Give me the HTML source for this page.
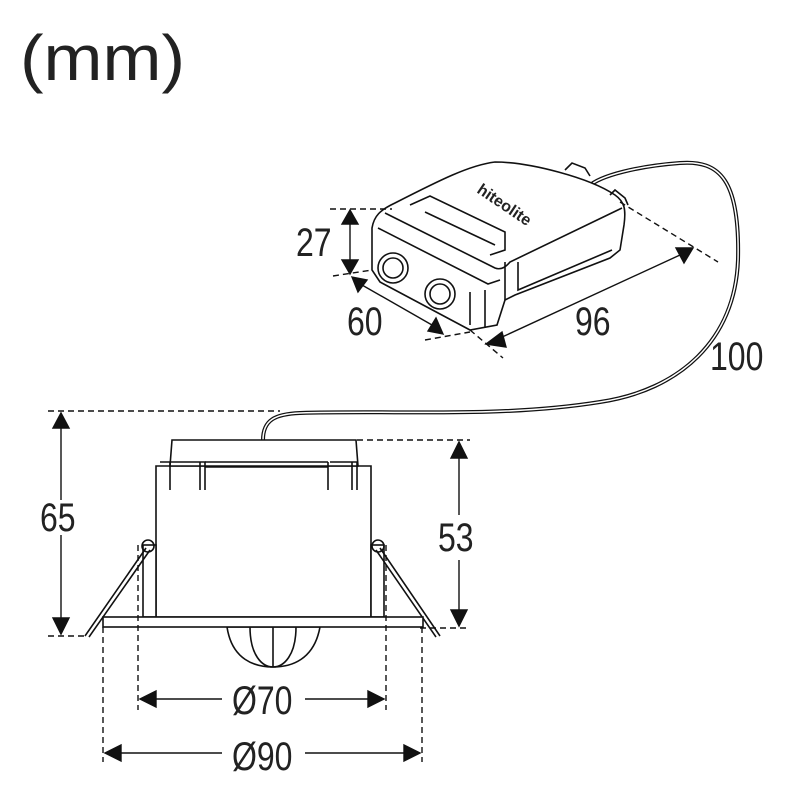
<!DOCTYPE html>
<html><head><style>
html,body{margin:0;padding:0;background:#fff;}
svg{display:block;}
text{font-family:"Liberation Sans",sans-serif;fill:#222;}
.d{font-size:40px;font-weight:normal;}
</style></head><body>
<svg width="800" height="800" viewBox="0 0 800 800" xmlns="http://www.w3.org/2000/svg">
<text x="20" y="80" style="font-size:64px" textLength="165" lengthAdjust="spacingAndGlyphs">(mm)</text>

<g fill="none" stroke="#111" stroke-width="1.6">
<path d="M263 440 C263 420 275 414 300 413 C400 410 500 418 600 402 C680 390 735 340 738 260 C740 180 720 160 680 163 C640 166 600 175 588 187" stroke-width="4"/>
<path d="M263 440 C263 420 275 414 300 413 C400 410 500 418 600 402 C680 390 735 340 738 260 C740 180 720 160 680 163 C640 166 600 175 588 187" stroke="#fff" stroke-width="1.5"/>

<!-- top box -->
<path d="M395 203 C440 180 470 165 495 162 C530 162 590 178 615 195 C625 202 626 210 624 225 L620 250 L610 258 L515 295 L505 300 L497 325 L470 330 L380 282 L372 270 L372 228 C374 216 380 210 395 203 Z" fill="#fff"/>
<path d="M385 213 L495 268 C500 270 505 268 510 262 L622 208"/>
<path d="M378 228 L488 284 L500 280"/>
<path d="M410 205 L430 196 L505 232 L505 250 L490 255"/>
<path d="M425 212 L495 245"/>
<path d="M470 292 L470 325 M485 290 L485 328 M505 262 L505 300 M518 262 L518 290 L612 250"/>
<path d="M565 170 L572 163 L585 168 L590 176 M610 195 L615 190 L625 198 L628 205"/>
<circle cx="393" cy="268" r="15"/><circle cx="393" cy="268" r="10"/>
<circle cx="440" cy="294" r="15"/><circle cx="440" cy="294" r="10"/>
</g>
<text x="0" y="0" transform="translate(476,192) rotate(34)" style="font-size:16px;font-weight:bold">hiteolite</text>

<g stroke="#111" stroke-width="1.4" stroke-dasharray="6,4" fill="none">
<path d="M330 209 L392 209"/>
<path d="M333 276 L372 270"/>
<path d="M425 340 L470 332"/>
<path d="M620 202 L718 262"/>
<path d="M470 330 L503 358"/>
</g>
<g stroke="#111" stroke-width="1.4" fill="#111">
<line x1="350" y1="222" x2="350" y2="262"/>
<path d="M342 224 L358 224 L350 210 Z M342 260 L358 260 L350 274 Z"/>
<line x1="362" y1="285" x2="432" y2="325"/>
<path d="M352 277 L367 280 L358 292 Z M443 334 L428 331 L436 318 Z"/>
<line x1="500" y1="338" x2="680" y2="255"/>
<path d="M486 344 L502 332 L506 347 Z M693 248 L676 248 L684 263 Z"/>
</g>
<text class="d" transform="translate(296,256) scale(0.8,1)">27</text>
<text class="d" transform="translate(347,335) scale(0.8,1)">60</text>
<text class="d" transform="translate(575,335) scale(0.8,1)">96</text>
<text class="d" transform="translate(710,370) scale(0.8,1)">100</text>

<g fill="#fff" stroke="#111" stroke-width="1.6">
<path d="M156 466 L371 466 L371 617 L156 617 Z"/>
<path d="M172 440 L356 440 L358 466 L170 466 Z"/>
<path d="M160 462 L205 462 L205 490 M200 462 L200 490 M170 462 L170 490 M330 462 L357 462 L357 490 M328 462 L328 490 M352 462 L352 490" fill="none"/>
<path d="M205 462 L328 462 M205 467 L328 467" fill="none"/>
<rect x="143" y="545" width="13" height="72"/>
<rect x="371" y="545" width="13" height="72"/>
<path d="M146 548 L85 636 M150 550 L89 637" fill="none"/>
<path d="M380 548 L440 636 M376 550 L436 637" fill="none"/>
<circle cx="148" cy="546" r="6" fill="none"/>
<circle cx="378" cy="546" r="6" fill="none"/>
<path d="M227 627 C232 660 255 667 273 667 C291 667 314 660 320 627 Z"/>
<path d="M250 627 C250 655 262 667 273 667 C284 667 296 655 296 627 M273 627 L273 667" fill="none"/>
<rect x="103" y="617" width="320" height="10"/>
</g>
<g stroke="#111" stroke-width="1.4" stroke-dasharray="6,4" fill="none">
<path d="M48 411 L280 411"/>
<path d="M48 636 L87 636"/>
<path d="M357 440 L470 440"/>
<path d="M420 628 L470 628"/>
<path d="M138 545 L138 710 M386 545 L386 710"/>
<path d="M103 627 L103 762 M422 627 L422 762"/>
</g>
<g stroke="#111" stroke-width="1.4" fill="#111">
<line x1="61" y1="425" x2="61" y2="500"/><line x1="61" y1="535" x2="61" y2="620"/>
<path d="M53 428 L69 428 L61 413 Z M53 618 L69 618 L61 634 Z"/>
<line x1="459" y1="455" x2="459" y2="515"/><line x1="459" y1="560" x2="459" y2="612"/>
<path d="M451 458 L467 458 L459 442 Z M451 610 L467 610 L459 626 Z"/>
<line x1="150" y1="699" x2="222" y2="699"/><line x1="305" y1="699" x2="374" y2="699"/>
<path d="M140 699 L156 691 L156 707 Z M384 699 L368 691 L368 707 Z"/>
<line x1="115" y1="753" x2="222" y2="753"/><line x1="305" y1="753" x2="410" y2="753"/>
<path d="M105 753 L121 745 L121 761 Z M420 753 L404 745 L404 761 Z"/>
</g>
<text class="d" transform="translate(40,531) scale(0.8,1)">65</text>
<text class="d" transform="translate(438,551) scale(0.8,1)">53</text>
<text class="d" transform="translate(232,714) scale(0.8,1)">Ø70</text>
<text class="d" transform="translate(232,770) scale(0.8,1)">Ø90</text>
</svg>
</body></html>
